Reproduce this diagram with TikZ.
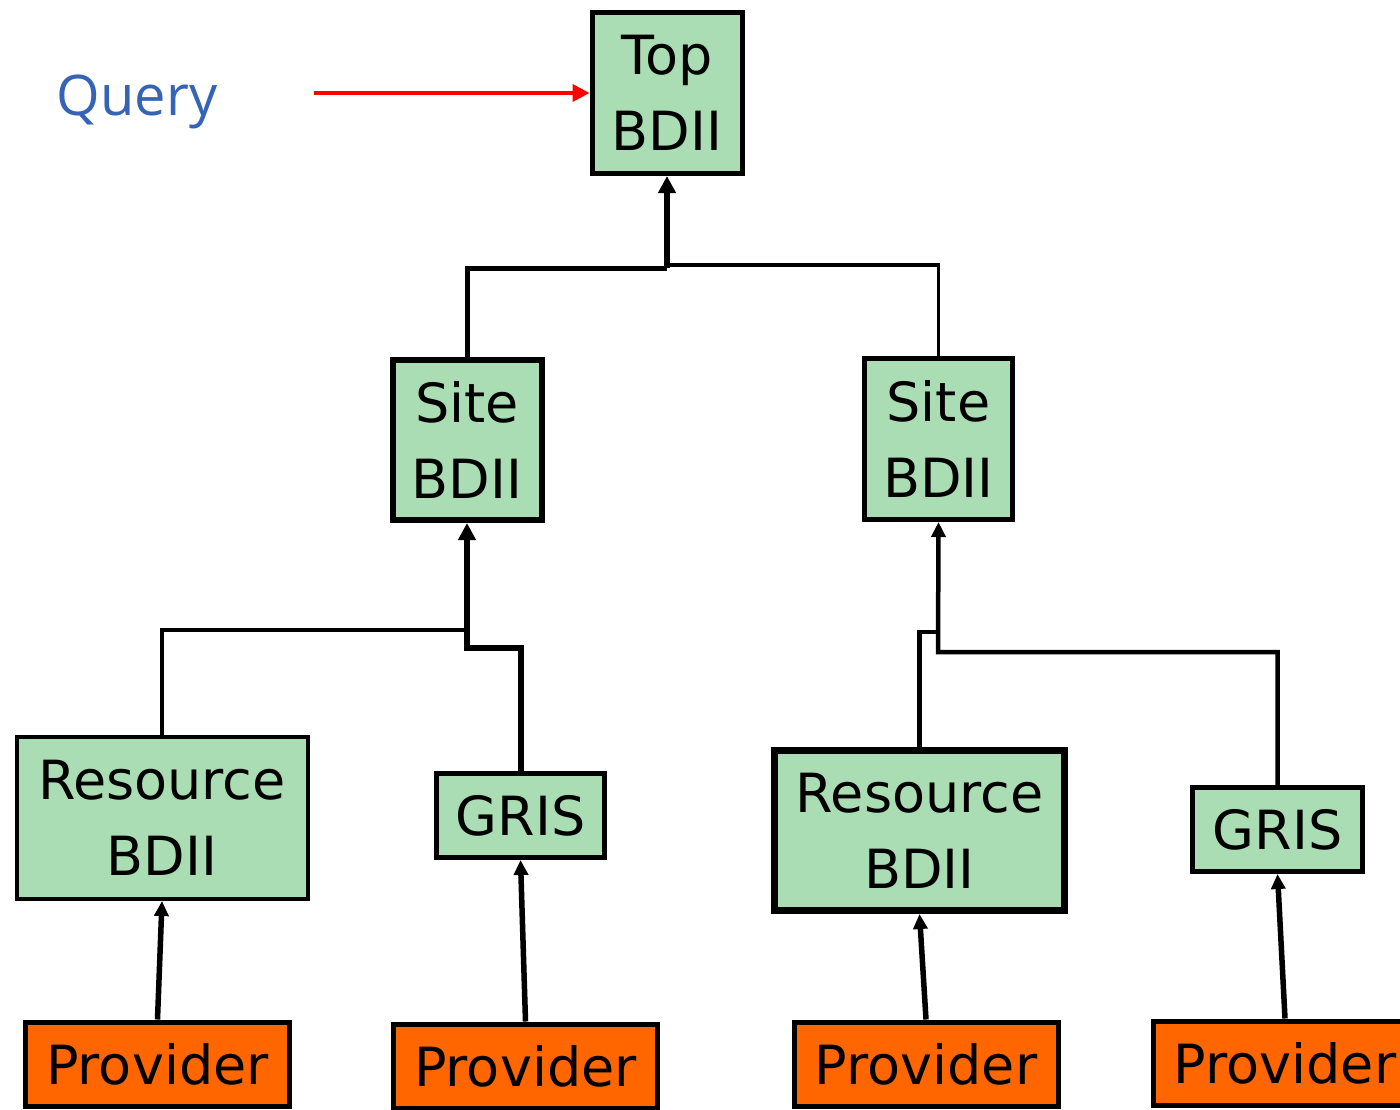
\documentclass[tikz,border=0pt]{standalone}
\usepackage{fontspec}
\setmainfont{DejaVu Sans}
\newfontfamily\queryfont{Open Sans}
\usepackage{tikz}
\usetikzlibrary{positioning,calc,arrows.meta}
\definecolor{bdiigreen}{HTML}{AADDB3}
\definecolor{provorange}{HTML}{FF6600}
\definecolor{queryblue}{HTML}{3564B6}
\tikzset{>=stealth,
  box/.style={draw,align=center,inner sep=0pt,font=\fontsize{27}{38}\selectfont},
  bdii/.style={box,fill=bdiigreen},
  prov/.style={box,fill=provorange,line width=2.5pt,minimum width=132pt,minimum height=42pt},
  up/.style={-{Triangle[length=7.5pt,width=7pt]}},
  upthick/.style={-{Triangle[length=8.5pt,width=8.5pt]}}
}

\begin{document}
\begin{tikzpicture}[x=0.5pt,y=-0.5pt]
% Page is 1400 x 1109
\clip (0,0) rectangle (1400,1109);

% Top level
\node[bdii,line width=2.5pt,minimum width=75pt,minimum height=80.5pt] (T) at (667,93) {Top\\BDII};
\node[font=\queryfont\fontsize{28}{32}\selectfont,text=queryblue] (Q) at (137,102) {Query};
\coordinate (Qs) at (314,93);

% Site level
\node[bdii,line width=3pt,minimum width=74.5pt,minimum height=80pt] (S1) at (467,440) {Site\\BDII};
\node[bdii,line width=2.5pt,minimum width=74pt,minimum height=80.5pt] (S2) at (938.5,439) {Site\\BDII};

% Resource level
\node[bdii,line width=2pt,minimum width=145.5pt,minimum height=81pt] (R1) at (162,818) {Resource\\BDII};
\node[bdii,line width=2.5pt,minimum width=84pt,minimum height=42pt] (G1) at (520.5,815.5) {GRIS};
\node[bdii,line width=3.5pt,minimum width=145pt,minimum height=80pt] (R2) at (919.5,830.5) {Resource\\BDII};
\node[bdii,line width=2.5pt,minimum width=85pt,minimum height=42pt] (G2) at (1277.5,829.5) {GRIS};

% Providers
\node[prov] (P1) at (157.5,1064) {Provider};
\node[prov] (P2) at (525.5,1066) {Provider};
\node[prov] (P3) at (926,1064) {Provider};
\node[prov] (P4) at (1285,1063) {Provider};

% Query into top BDII
\draw[red,line width=2pt,-{Triangle[length=8.5pt,width=8.5pt]}] (Qs) -- (T.west);

% Site BDIIs to top BDII
\coordinate (J1) at (667,268);
\coordinate (J2) at (667,265);
\draw[line width=2.5pt] (S1.north) |- (J1);
\draw[line width=1.75pt] (S2.north) |- (J2);
\draw[line width=3pt,upthick] (J1) -- (T.south);

% Resource BDII and GRIS to left site BDII
\coordinate (K1) at (465,630);
\coordinate (K2) at (467,648);
\draw[line width=2.25pt] (R1.north) |- (K1);
\draw[line width=3pt,upthick] (G1.north) |- (K2) -- (S1.south);

% Resource BDII and GRIS to right site BDII
\coordinate (K3) at (938,632);
\coordinate (K4) at (938,652);
\draw[line width=2.25pt] (R2.north) |- (K3);
\draw[line width=2.25pt,up] (G2.north) |- (K4) -- (S2.south);

% Providers to resource BDIIs and GRISes
\draw[line width=2.75pt,up] (P1.north) -- (R1.south);
\draw[line width=2.75pt,up] (P2.north) -- (G1.south);
\draw[line width=2.75pt,up] (P3.north) -- (R2.south);
\draw[line width=2.75pt,up] (P4.north) -- (G2.south);

\end{tikzpicture}
\end{document}
